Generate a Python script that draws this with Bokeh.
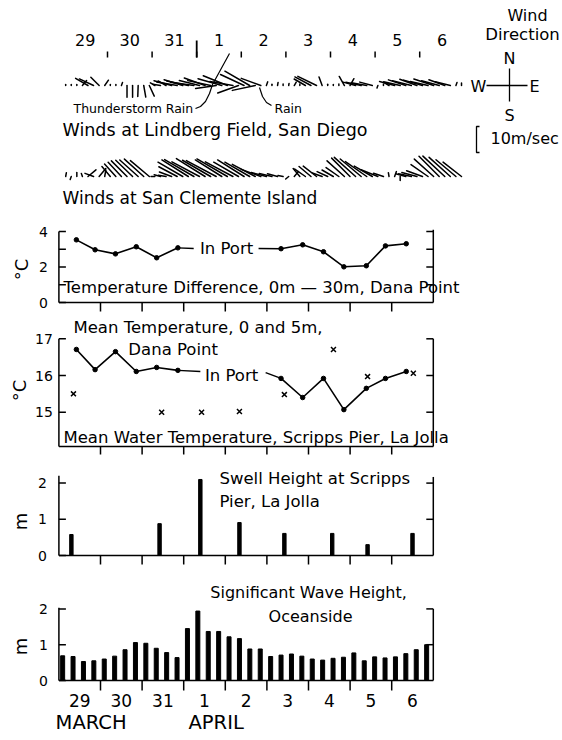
import math
from bokeh.plotting import figure
from bokeh.models import Range1d
from bokeh.embed import file_html
from bokeh.resources import INLINE
from bokeh.core.properties import value

FONT = "DejaVu Sans"
W, H = 560, 736
LEFT, TOP = 0, 0   # page offset of the canvas

# ---------------- data ----------------
day_labels = ["29", "30", "31", "1", "2", "3", "4", "5", "6"]
day_mid = [0.5, 1.5, 2.5, 3.5, 4.5, 5.5, 6.5, 7.5, 8.5]
day_bounds = [1, 2, 3, 4, 5, 6, 7, 8]
month_start = [3]
month_names = ["MARCH", "APRIL"]
month_pos = [-0.08, 3.115]

# wind observations every 3 hours (hours after 00:00, 29 March)
wind_hours = [1.5, 4.5, 7.5, 10.5, 13.5, 16.5, 19.5, 22.5,
              25.5, 28.5, 31.5, 34.5, 37.5, 40.5, 43.5, 46.5,
              49.5, 52.5, 55.5, 58.5, 61.5, 64.5, 67.5, 70.5,
              73.5, 76.5, 79.5, 82.5, 85.5, 88.5, 91.5, 94.5,
              97.5, 100.5, 103.5, 106.5, 109.5, 112.5, 115.5, 118.5,
              121.5, 124.5, 127.5, 130.5, 133.5, 136.5, 139.5, 142.5,
              145.5, 148.5, 151.5, 154.5, 157.5, 160.5, 163.5, 166.5,
              169.5, 172.5, 175.5, 178.5, 181.5, 184.5, 187.5, 190.5,
              193.5, 196.5, 199.5, 202.5, 205.5, 208.5, 211.5, 214.5]

# Lindberg Field: speed (m/s) and stick direction (deg clockwise from N)
lind_speed = [0.4, 0.4, 0.4, 2.5, 5.5, 6.0, 4.5, 2.5,
              0.4, 0.4, 1.2, 4.5, 4.5, 4.2, 4.5, 4.5,
              2.0, 3.0, 3.5, 7.0, 8.0, 7.5, 8.5, 9.0,
              8.0, 8.5, 9.0, 8.0, 9.5, 10.0, 9.0, 8.5,
              10.0, 11.0, 9.0, 8.0, 1.5, 0.5, 1.2, 0.6,
              0.8, 1.5, 0.6, 5.0, 7.0, 8.0, 3.5, 0.5,
              0.4, 0.6, 4.0, 3.0, 5.0, 6.0, 6.0, 5.0,
              1.0, 0.6, 2.0, 6.0, 6.5, 7.0, 7.5, 7.0,
              7.5, 7.0, 8.0, 7.0, 6.5, 6.0, 1.2, 1.0]
lind_dir = [0, 0, 0, 40, 300, 295, 315, 35,
            0, 0, 20, 180, 180, 182, 170, 155,
            300, 280, 300, 285, 280, 287, 282, 278,
            284, 290, 282, 262, 286, 292, 280, 250,
            295, 300, 258, 290, 20, 0, 10, 0,
            10, 30, 0, 300, 298, 296, 340, 0,
            0, 0, 330, 30, 285, 282, 280, 285,
            200, 0, 300, 285, 283, 288, 284, 290,
            286, 283, 288, 285, 290, 284, 20, 0]

# San Clemente Island
clem_speed = [1.5, 1.2, 1.5, 1.2, 4.0, 3.5, 4.0, 2.5,
              5.0, 6.5, 7.5, 8.5, 9.0, 9.5, 10.0, 9.5,
              1.5, 2.5, 3.0, 5.0, 8.0, 11.0, 12.0, 13.0,
              12.0, 13.0, 12.5, 13.0, 12.0, 13.5, 12.0, 11.0,
              12.0, 11.0, 10.0, 8.0, 6.0, 5.0, 4.0, 2.0,
              1.5, 2.5, 4.0, 5.0, 6.0, 6.5, 4.0, 4.5,
              5.0, 6.0, 9.0, 10.0, 11.0, 10.5, 10.0, 8.0,
              7.0, 4.0, 1.5, 2.0, 1.5, 4.0, 5.0, 6.0,
              6.5, 8.0, 10.0, 11.0, 11.5, 11.0, 10.0, 9.0]
clem_dir = [10, 200, 0, 340, 50, 290, 40, 10,
            320, 318, 317, 315, 314, 312, 312, 310,
            270, 285, 280, 290, 298, 300, 302, 300,
            298, 302, 300, 298, 302, 300, 298, 300,
            302, 300, 298, 290, 285, 283, 285, 280,
            230, 40, 320, 305, 310, 308, 290, 295,
            300, 305, 312, 315, 312, 310, 305, 300,
            292, 288, 350, 20, 180, 285, 282, 285,
            290, 305, 312, 315, 313, 312, 310, 308]

# Temperature difference 0m-30m, Dana Point (deg C)
td_t_a = [0.42, 0.87, 1.36, 1.86, 2.35, 2.86]
td_v_a = [3.53, 2.97, 2.74, 3.14, 2.52, 3.08]
td_t_b = [5.34, 5.86, 6.36, 6.85, 7.39, 7.85, 8.35]
td_v_b = [3.03, 3.25, 2.86, 2.01, 2.07, 3.19, 3.31]

# Mean temperature 0 and 5 m, Dana Point
mt_t_a = [0.42, 0.87, 1.36, 1.86, 2.35, 2.86]
mt_v_a = [16.71, 16.16, 16.65, 16.11, 16.22, 16.14]
mt_t_b = [5.34, 5.86, 6.36, 6.85, 7.39, 7.85, 8.35]
mt_v_b = [15.92, 15.40, 15.92, 15.07, 15.65, 15.92, 16.11]

# Mean water temperature, Scripps Pier
wt_t = [0.35, 2.47, 3.43, 4.34, 5.42, 6.60, 7.42, 8.52]
wt_v = [15.50, 15.00, 15.00, 15.02, 15.48, 16.71, 15.97, 16.06]

# Swell height, Scripps Pier (m)
sw_t = [0.30, 2.42, 3.40, 4.34, 5.42, 6.57, 7.42, 8.50]
sw_h = [0.58, 0.88, 2.10, 0.91, 0.61, 0.61, 0.30, 0.61]

# Significant wave height, Oceanside (m)
wv_t = [0.09, 0.34, 0.59, 0.84, 1.09, 1.34, 1.59, 1.84, 2.09, 2.34, 2.59, 2.84,
        3.09, 3.34, 3.59, 3.84, 4.09, 4.34, 4.59, 4.84, 5.09, 5.34, 5.59, 5.84,
        6.09, 6.34, 6.59, 6.84, 7.09, 7.34, 7.59, 7.84, 8.09, 8.34, 8.59, 8.84]
wv_h = [0.69, 0.67, 0.53, 0.55, 0.60, 0.68, 0.86, 1.06, 1.04, 0.90, 0.78, 0.64,
        1.45, 1.94, 1.37, 1.37, 1.22, 1.17, 0.88, 0.88, 0.67, 0.71, 0.74, 0.68,
        0.60, 0.57, 0.62, 0.65, 0.77, 0.55, 0.66, 0.63, 0.66, 0.75, 0.86, 1.00]

# ---------------- scales ----------------
PX, PX0 = 41.6, 58.4      # data panels: px per day, page x of day 0
KX, WX0 = 44.6, 62.4      # wind panel: px per day, page x of day 0
KS = 2.6                  # wind stick px per m/s


def dx(px):
    return (px - PX0) / PX


def wx(px):
    return (px - WX0) / KX


def prange(v0, y0, k):
    return Range1d(v0 - (TOP + H - y0) / k, v0 + (y0 - TOP) / k)


p = figure(width=W, height=H, x_range=Range1d(dx(LEFT), dx(LEFT + W)),
           y_range=Range1d(TOP + H, TOP), output_backend="svg", toolbar_location=None,
           min_border=0, x_axis_location=None, y_axis_location=None)
p.outline_line_color = None
p.grid.visible = False
p.background_fill_color = "white"
p.border_fill_color = "white"
p.extra_x_ranges = {"wind": Range1d(wx(LEFT), wx(LEFT + W))}
p.extra_y_ranges = {"td": prange(0, 302, 17.75), "mt": prange(17, 338.3, 36.7),
                    "sw": prange(0, 555, 36.2), "wv": prange(0, 680, 35.8)}
SCALE = {"td": 17.75, "mt": 36.7, "sw": 36.2, "wv": 35.8}


def txt(x, y, s, size, align="left", xr="default", yr="default", angle=0.0):
    p.text(x=[x], y=[y], text=[s], text_font=value(FONT), text_font_size=size,
           text_align=align, text_baseline="middle", text_color="black", angle=angle,
           x_range_name=xr, y_range_name=yr)


# ---------------- wind panel ----------------
wind_t = [h / 24.0 for h in wind_hours]

p.text(x=day_mid, y=[39] * len(day_mid), text=day_labels, text_align="center",
       text_baseline="middle", text_font=value(FONT), text_font_size="16px",
       text_color="black", x_range_name="wind")
p.segment(x0=day_bounds, y0=[51] * len(day_bounds), x1=day_bounds,
          y1=[57] * len(day_bounds), line_color="black", line_width=1.5, x_range_name="wind")
p.segment(x0=month_start, y0=[40], x1=month_start, y1=[57], line_color="black",
          line_width=1.8, x_range_name="wind")


def add_sticks(speeds, dirs, base):
    x1 = [t + s * KS * math.sin(math.radians(d)) / KX for t, s, d in zip(wind_t, speeds, dirs)]
    y1 = [base - s * KS * math.cos(math.radians(d)) for s, d in zip(speeds, dirs)]
    p.segment(x0=wind_t, y0=[base] * len(wind_t), x1=x1, y1=y1, line_color="black",
              line_width=1.5, line_cap="round", x_range_name="wind")


add_sticks(lind_speed, lind_dir, 85)
add_sticks(clem_speed, clem_dir, 176)

storm_px = [(229, 53), (212, 84), (209, 93), (205, 101), (200, 106), (195, 108)]
p.line([wx(a) for a, b in storm_px], [b for a, b in storm_px], line_color="black",
       line_width=1.2, x_range_name="wind")
rain_px = [(259, 87), (262, 96), (266, 102), (271, 105)]
p.line([wx(a) for a, b in rain_px], [b for a, b in rain_px], line_color="black",
       line_width=1.2, x_range_name="wind")

txt(wx(73), 108, "Thunderstorm Rain", "12.5px", xr="wind")
txt(wx(274), 108, "Rain", "12.5px", xr="wind")
txt(wx(62), 129, "Winds at Lindberg Field, San Diego", "17.5px", xr="wind")
txt(wx(62), 197, "Winds at San Clemente Island", "17px", xr="wind")

# compass
txt(wx(527), 15, "Wind", "16px", "center", xr="wind")
txt(wx(522), 34, "Direction", "16.5px", "center", xr="wind")
txt(wx(509), 58, "N", "16px", "center", xr="wind")
txt(wx(509), 115, "S", "16px", "center", xr="wind")
txt(wx(478), 86, "W", "16px", "center", xr="wind")
txt(wx(534), 86, "E", "16px", "center", xr="wind")
p.segment(x0=[wx(509), wx(486)], y0=[68, 85], x1=[wx(509), wx(527)], y1=[101, 85],
          line_color="black", line_width=1.3, x_range_name="wind")
b_top = 126
b_bot = b_top + 10 * KS
p.line([wx(479), wx(476), wx(476), wx(479)], [b_top, b_top, b_bot, b_bot],
       line_color="black", line_width=1.3, x_range_name="wind")
txt(wx(490), 138, "10m/sec", "16px", xr="wind")


# ---------------- data panel frames ----------------
def panel_axes(r, lo, lhi, rhi, lmajor, lminor, rticks, lstand, ylabel, ylab_x, ylab_y,
               tick_len=9):
    k = SCALE[r]
    lw = 1.5
    p.segment(x0=[0, 9, 0], y0=[lo, lo, lo], x1=[0, 9, 9], y1=[lhi, rhi, lo],
              line_color="black", line_width=lw, y_range_name=r)
    lt = lmajor + lminor
    p.segment(x0=[0] * len(lt), y0=lt, x1=[7 / PX] * len(lt), y1=lt,
              line_color="black", line_width=lw, y_range_name=r)
    p.segment(x0=[9] * len(rticks), y0=rticks, x1=[9 - 7 / PX] * len(rticks), y1=rticks,
              line_color="black", line_width=lw, y_range_name=r)
    p.segment(x0=day_bounds, y0=[lo] * len(day_bounds), x1=day_bounds,
              y1=[lo - tick_len / k] * len(day_bounds), line_color="black", line_width=lw,
              y_range_name=r)
    p.text(x=[-lstand / PX] * len(lmajor), y=lmajor, text=[str(v) for v in lmajor],
           text_align="right", text_baseline="middle", text_font=value(FONT),
           text_font_size="14px", text_color="black", y_range_name=r)
    txt(dx(ylab_x), ylab_y, ylabel, "18px", "center", yr=r, angle=math.pi / 2)


# Temperature difference
panel_axes("td", 0, 4, 4.1, [0, 2, 4], [1, 3], [1, 2, 3, 4], 11, "°C", 21, 1.86)
p.line(td_t_a, td_v_a, line_color="black", line_width=1.6, y_range_name="td")
p.line(td_t_b, td_v_b, line_color="black", line_width=1.6, y_range_name="td")
p.scatter(td_t_a + td_t_b, td_v_a + td_v_b, size=4.5, color="black", y_range_name="td")
p.line([td_t_a[-1], 3.24], [td_v_a[-1], 3.04], line_color="black", line_width=1.4,
       y_range_name="td")
p.line([4.80, td_t_b[0]], [3.04, td_v_b[0]], line_color="black", line_width=1.4,
       y_range_name="td")
txt(4.03, 3.04, "In Port", "16.5px", "center", yr="td")
txt(0.11, 0.86, "Temperature Difference, 0m — 30m, Dana Point", "16.5px", yr="td")

# Mean temperature
MT_LO = 17 - (446 - 338.3) / 36.7
panel_axes("mt", MT_LO, 17, 17, [15, 16, 17], [], [15, 16, 17], 6, "°C", 19, 15.59,
           tick_len=8)
p.line(mt_t_a, mt_v_a, line_color="black", line_width=1.6, y_range_name="mt")
p.line(mt_t_b, mt_v_b, line_color="black", line_width=1.6, y_range_name="mt")
p.scatter(mt_t_a + mt_t_b, mt_v_a + mt_v_b, size=4.5, color="black", y_range_name="mt")
p.line([mt_t_a[-1], 3.40], [mt_v_a[-1], 16.11], line_color="black", line_width=1.4,
       y_range_name="mt")
p.line([4.97, mt_t_b[0]], [16.08, mt_v_b[0]], line_color="black", line_width=1.4,
       y_range_name="mt")
p.scatter(wt_t, wt_v, marker="x", size=7, line_width=1.5, color="black", y_range_name="mt")
txt(4.15, 16.0, "In Port", "16.5px", "center", yr="mt")
txt(0.35, 17.31, "Mean Temperature, 0 and 5m,", "16.5px", yr="mt")
txt(1.67, 16.71, "Dana Point", "16.5px", yr="mt")
txt(0.11, 14.31, "Mean Water Temperature, Scripps Pier, La Jolla", "16.5px", yr="mt")

# Swell
panel_axes("sw", 0, 2.2, 2.17, [0, 1, 2], [], [1, 2], 12, "m", 20, 0.94)
p.vbar(x=sw_t, top=sw_h, bottom=0, width=0.082, color="black", y_range_name="sw")
txt(3.86, 2.13, "Swell Height at Scripps", "16.5px", yr="sw")
txt(3.86, 1.49, "Pier, La Jolla", "16.5px", yr="sw")

# Significant wave height
panel_axes("wv", 0, 2.03, 2.0, [0, 1, 2], [], [1, 2], 11, "m", 20, 0.95, tick_len=10)
p.vbar(x=wv_t, top=wv_h, bottom=0, width=0.096, color="black", y_range_name="wv")
txt(3.64, 2.46, "Significant Wave Height,", "16px", yr="wv")
txt(5.04, 1.79, "Oceanside", "16px", yr="wv")
p.text(x=day_mid, y=[-(700 - 680) / 35.8] * len(day_mid), text=day_labels,
       text_align="center", text_baseline="middle", text_font=value(FONT),
       text_font_size="17px", text_color="black", y_range_name="wv")
p.text(x=month_pos, y=[722] * len(month_pos), text=month_names, text_align="left",
       text_baseline="middle", text_font=value(FONT), text_font_size="19.5px",
       text_color="black")

open("out.html", "w").write(file_html(p, INLINE))
